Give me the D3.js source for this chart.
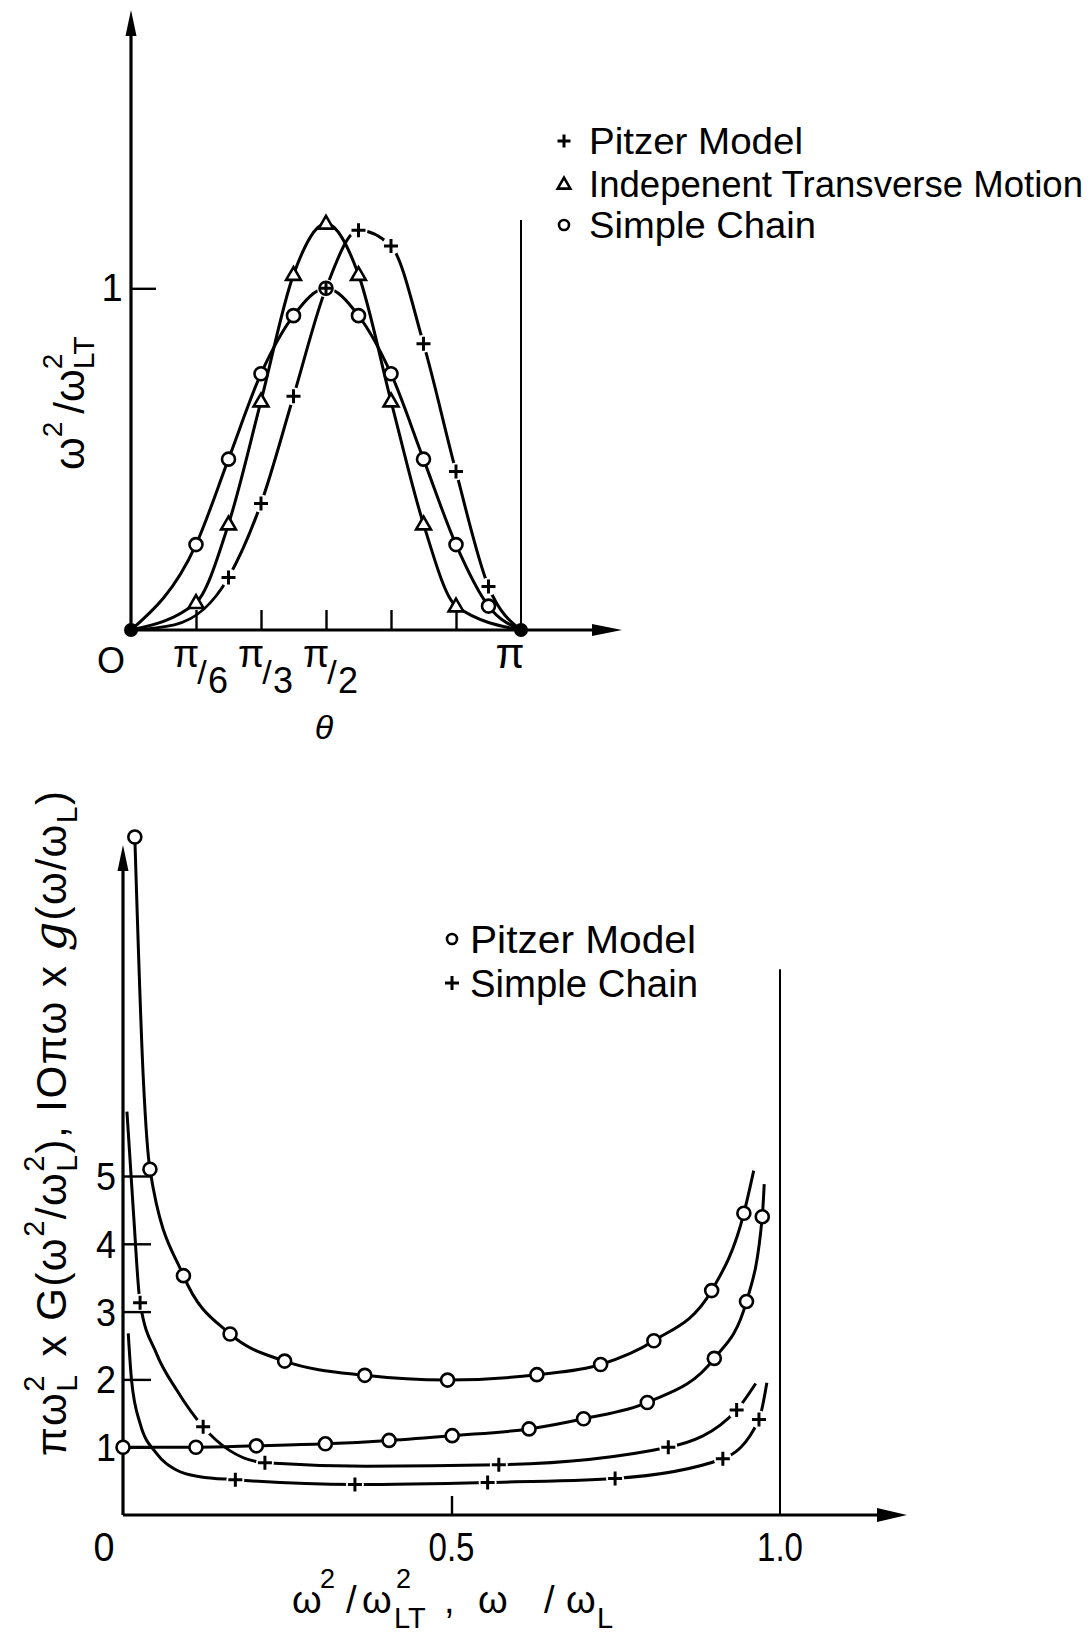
<!DOCTYPE html>
<html>
<head>
<meta charset="utf-8">
<script src="https://cdn.jsdelivr.net/npm/d3@7"></script>
<style>
  body { margin: 0; background: #fff; }
  svg text { font-family: "Liberation Sans", "DejaVu Sans", sans-serif; fill: #000; }
</style>
</head>
<body>
<svg id="fig" width="1090" height="1635"></svg>
<script>
// ---- upper panel: dispersion vs theta (degrees) ----
const chainTheta = [0, 30, 45, 60, 75, 90, 105, 120, 135, 150, 165, 180];
const chainVal   = [0, 0.25, 0.50, 0.75, 0.92, 1.00, 0.92, 0.75, 0.50, 0.25, 0.07, 0];
const chainMarks = [1, 2, 3, 4, 5, 6, 7, 8, 9, 10];

const indepTheta = [0, 30, 45, 60, 75, 90, 105, 120, 135, 150, 180];
const indepVal   = [0, 0.08, 0.31, 0.67, 1.04, 1.19, 1.04, 0.67, 0.31, 0.07, 0];
const indepMarks = [1, 2, 3, 4, 5, 6, 7, 8, 9];

const pitzerTheta = [0, 20, 45, 60, 75, 90, 105, 120, 135, 150, 165, 180];
const pitzerVal   = [0, 0.015, 0.154, 0.37, 0.684, 1.00, 1.17, 1.124, 0.838, 0.464, 0.127, 0];
const pitzerMarks = [2, 3, 4, 5, 6, 7, 8, 9, 10];

const thetaTicks = [30, 60, 90, 120, 150];
const thetaLabels = [[30, "6"], [60, "3"], [90, "2"]];
const topLegend = ["Pitzer Model", "Indepenent Transverse Motion", "Simple Chain"];

// ---- lower panel: distributions ----
const pitzGX = [0.018, 0.031, 0.041, 0.092, 0.163, 0.246, 0.368, 0.494, 0.630, 0.727, 0.808, 0.896, 0.945, 0.960];
const pitzGY = [10.0, 6.42, 5.10, 3.53, 2.67, 2.27, 2.06, 1.99, 2.07, 2.22, 2.57, 3.31, 4.45, 5.08];
const pitzGMarks = [0, 2, 3, 4, 5, 6, 7, 8, 9, 10, 11, 12];

const pitzgX = [0.0, 0.111, 0.203, 0.308, 0.405, 0.501, 0.618, 0.701, 0.798, 0.900, 0.949, 0.973, 0.976];
const pitzgY = [1.0, 1.0, 1.02, 1.05, 1.10, 1.17, 1.27, 1.42, 1.66, 2.31, 3.15, 4.40, 4.88];
const pitzgMarks = [0, 1, 2, 3, 4, 5, 6, 7, 8, 9, 10, 11];

const chainGX = [0.006, 0.016, 0.026, 0.051, 0.082, 0.122, 0.216, 0.37, 0.572, 0.830, 0.934, 0.963];
const chainGY = [5.95, 4.45, 3.13, 2.38, 1.84, 1.30, 0.77, 0.72, 0.74, 1.00, 1.55, 1.94];
const chainGMarks = [2, 5, 6, 8, 9, 10];

const chaingX = [0.008, 0.013, 0.026, 0.051, 0.082, 0.117, 0.171, 0.353, 0.555, 0.749, 0.913, 0.968, 0.980];
const chaingY = [2.68, 1.99, 1.35, 0.91, 0.66, 0.565, 0.52, 0.45, 0.48, 0.54, 0.83, 1.41, 1.95];
const chaingMarks = [6, 7, 8, 9, 10, 11];

const yTicksB = [1, 2, 3, 4, 5];
const xLabelsB = [[0, "0"], [0.5, "0.5"], [1, "1.0"]];
const bottomLegend = ["Pitzer Model", "Simple Chain"];

const svg = d3.select("#fig");

function plusPath(x, y, s) {
  return `M${x - s},${y}H${x + s}M${x},${y - s}V${y + s}`;
}

function arrowHead(g, x, y, dir, len, half) {
  let d;
  if (dir === "up") d = `M${x},${y}L${x - half},${y + len}L${x + half},${y + len}Z`;
  else d = `M${x},${y}L${x - len},${y - half}L${x - len},${y + half}Z`;
  g.append("path").attr("d", d).attr("fill", "#000");
}

function drawCurve(g, xs, ys, sx, sy) {
  g.append("path")
    .attr("d", d3.line().x((d, i) => sx(xs[i])).y((d, i) => sy(ys[i])).curve(d3.curveMonotoneX)(xs))
    .attr("fill", "none").attr("stroke", "#000").attr("stroke-width", 3);
}

function halos(g, xs, ys, marks, sx, sy, r) {
  g.selectAll(null).data(marks).join("circle")
    .attr("cx", i => sx(xs[i])).attr("cy", i => sy(ys[i])).attr("r", r).attr("fill", "#fff");
}

function circles(g, xs, ys, marks, sx, sy) {
  g.selectAll(null).data(marks).join("circle")
    .attr("cx", i => sx(xs[i])).attr("cy", i => sy(ys[i])).attr("r", 6.5)
    .attr("fill", "#fff").attr("stroke", "#000").attr("stroke-width", 2.6);
}

function pluses(g, xs, ys, marks, sx, sy, s) {
  g.selectAll(null).data(marks).join("path")
    .attr("d", i => plusPath(sx(xs[i]), sy(ys[i]), s))
    .attr("stroke", "#000").attr("stroke-width", 3).attr("fill", "none");
}

// builds rich text (sup/sub) inside a text element
function richText(t, segs, size) {
  let cur = 0, prev = null;
  segs.forEach(s => {
    const target = s.sup ? -s.lift : s.sub ? s.drop : 0;
    const ts = t.append("tspan").text(s.t)
      .attr("font-size", s.size || size)
      .attr("dy", target - cur);
    if (s.stack && prev) ts.attr("dx", -prev.node().getComputedTextLength());
    if (s.dx) ts.attr("dx", s.dx);
    if (s.italic) ts.style("font-family", "'DejaVu Serif', serif").style("font-style", "italic");
    cur = target;
    prev = ts;
  });
}

// ================= upper panel =================
const xT = d3.scaleLinear().domain([0, 180]).range([131, 521]);
const yT = d3.scaleLinear().domain([0, 1]).range([630, 288.3]);
const gT = svg.append("g");

drawCurve(gT, chainTheta, chainVal, xT, yT);
drawCurve(gT, indepTheta, indepVal, xT, yT);
drawCurve(gT, pitzerTheta, pitzerVal, xT, yT);
halos(gT, pitzerTheta, pitzerVal, pitzerMarks, xT, yT, 9);

// axes
gT.append("line").attr("x1", xT(0)).attr("y1", yT(0)).attr("x2", xT(0)).attr("y2", 22)
  .attr("stroke", "#000").attr("stroke-width", 3.2);
arrowHead(gT, xT(0), 10, "up", 26, 5.5);
gT.append("line").attr("x1", xT(0)).attr("y1", yT(0)).attr("x2", 600).attr("y2", yT(0))
  .attr("stroke", "#000").attr("stroke-width", 3.2);
arrowHead(gT, 622, yT(0), "right", 30, 6);
gT.append("line").attr("x1", xT(180)).attr("y1", yT(1.2)).attr("x2", xT(180)).attr("y2", yT(0))
  .attr("stroke", "#000").attr("stroke-width", 2);

const xAxT = gT.append("g").attr("transform", `translate(0,${yT(0)})`)
  .call(d3.axisBottom(xT).tickValues(thetaTicks).tickSize(-20).tickFormat(""));
const yAxT = gT.append("g").attr("transform", `translate(${xT(0)},0)`)
  .call(d3.axisRight(yT).tickValues([1]).tickSize(25).tickFormat(""));
[xAxT, yAxT].forEach(a => {
  a.select(".domain").remove();
  a.selectAll(".tick line").attr("stroke", "#000").attr("stroke-width", 2.4);
});

// markers
circles(gT, chainTheta, chainVal, chainMarks, xT, yT);
gT.selectAll(null).data(indepMarks).join("path")
  .attr("transform", i => `translate(${xT(indepTheta[i])},${yT(indepVal[i]) + 1})`)
  .attr("d", d3.symbol(d3.symbolTriangle).size(95))
  .attr("fill", "#fff").attr("stroke", "#000").attr("stroke-width", 2.6);
pluses(gT, pitzerTheta, pitzerVal, pitzerMarks, xT, yT, 7);
gT.selectAll(null).data([0, chainTheta.length - 1]).join("circle")
  .attr("cx", i => xT(chainTheta[i])).attr("cy", i => yT(chainVal[i])).attr("r", 7).attr("fill", "#000");

// tick labels
gT.append("text").attr("x", 111).attr("y", 673).attr("text-anchor", "middle")
  .attr("font-size", 36).text("O");
gT.append("text").attr("x", 112).attr("y", 301).attr("text-anchor", "middle")
  .attr("font-size", 38).text("1");
thetaLabels.forEach(([v, den]) => {
  const cx = xT(v);
  const t = gT.append("text").attr("text-anchor", "middle");
  t.append("tspan").attr("x", cx - 10).attr("y", 667).attr("font-size", 38).text("π");
  t.append("tspan").attr("x", cx + 6).attr("y", 684).attr("font-size", 34).text("/");
  t.append("tspan").attr("x", cx + 22).attr("y", 693).attr("font-size", 36).text(den);
});
gT.append("text").attr("x", xT(180) - 11).attr("y", 668).attr("text-anchor", "middle")
  .attr("font-size", 42).text("π");
gT.append("text").attr("x", 324).attr("y", 739).attr("text-anchor", "middle")
  .attr("font-size", 34).attr("font-style", "italic").text("θ");

// y label (rotated)
const ylT = gT.append("text").attr("transform", "translate(84,470) rotate(-90)").attr("font-size", 42);
richText(ylT, [
  { t: "ω" },
  { t: "2", sup: true, lift: 22, size: 28 },
  { t: "/ω", dx: 8 },
  { t: "2", sup: true, lift: 22, size: 28 },
  { t: "LT", sub: true, drop: 10, size: 30, stack: true }
], 42);

// legend
const legT = gT.append("g");
topLegend.forEach((name, k) => {
  const by = [154, 197, 238][k];
  legT.append("text").attr("x", 589).attr("y", by).attr("font-size", 37)
    .attr("textLength", [214, 494, 227][k]).attr("lengthAdjust", "spacingAndGlyphs").text(name);
  const cy = by - 13;
  if (k === 0) legT.append("path").attr("d", plusPath(564, cy, 6.5)).attr("stroke", "#000").attr("stroke-width", 3);
  if (k === 1) legT.append("path").attr("transform", `translate(564,${cy + 1})`)
    .attr("d", d3.symbol(d3.symbolTriangle).size(70)).attr("fill", "#fff").attr("stroke", "#000").attr("stroke-width", 2.6);
  if (k === 2) legT.append("circle").attr("cx", 564).attr("cy", cy).attr("r", 5)
    .attr("fill", "#fff").attr("stroke", "#000").attr("stroke-width", 2.6);
});

// ================= lower panel =================
const xB = d3.scaleLinear().domain([0, 1]).range([123, 780]);
const yB = d3.scaleLinear().domain([0, 5]).range([1515, 1176]);
const gB = svg.append("g");

drawCurve(gB, pitzGX, pitzGY, xB, yB);
drawCurve(gB, pitzgX, pitzgY, xB, yB);
drawCurve(gB, chainGX, chainGY, xB, yB);
drawCurve(gB, chaingX, chaingY, xB, yB);
halos(gB, chainGX, chainGY, chainGMarks, xB, yB, 9);
halos(gB, chaingX, chaingY, chaingMarks, xB, yB, 9);

gB.append("line").attr("x1", xB(0)).attr("y1", yB(0)).attr("x2", xB(0)).attr("y2", 858)
  .attr("stroke", "#000").attr("stroke-width", 3.2);
arrowHead(gB, xB(0), 845, "up", 26, 5.5);
gB.append("line").attr("x1", xB(0)).attr("y1", yB(0)).attr("x2", 885).attr("y2", yB(0))
  .attr("stroke", "#000").attr("stroke-width", 3.2);
arrowHead(gB, 907, yB(0), "right", 30, 7);
gB.append("line").attr("x1", xB(1)).attr("y1", yB(8.05)).attr("x2", xB(1)).attr("y2", yB(0))
  .attr("stroke", "#000").attr("stroke-width", 2);

const xAxB = gB.append("g").attr("transform", `translate(0,${yB(0)})`)
  .call(d3.axisBottom(xB).tickValues([0.5]).tickSize(-19).tickFormat(""));
const yAxB = gB.append("g").attr("transform", `translate(${xB(0)},0)`)
  .call(d3.axisRight(yB).tickValues(yTicksB).tickSize(28).tickFormat(""));
[xAxB, yAxB].forEach(a => {
  a.select(".domain").remove();
  a.selectAll(".tick line").attr("stroke", "#000").attr("stroke-width", 2.4);
});

circles(gB, pitzGX, pitzGY, pitzGMarks, xB, yB);
circles(gB, pitzgX, pitzgY, pitzgMarks, xB, yB);
pluses(gB, chainGX, chainGY, chainGMarks, xB, yB, 7);
pluses(gB, chaingX, chaingY, chaingMarks, xB, yB, 7);

yTicksB.forEach(v => {
  gB.append("text").attr("x", 106).attr("y", yB(v) + 14).attr("text-anchor", "middle")
    .attr("font-size", 39).attr("textLength", 20).attr("lengthAdjust", "spacingAndGlyphs").text(v);
});
xLabelsB.forEach(([v, s]) => {
  gB.append("text").attr("x", v === 0 ? 104 : xB(v)).attr("y", 1561).attr("text-anchor", "middle")
    .attr("font-size", 41).attr("textLength", v === 0 ? 21 : 46)
    .attr("lengthAdjust", "spacingAndGlyphs").text(s);
});

// x label
const xlB = gB.append("text");
[
  [292, 1613, 38, "ω"], [320, 1588, 27, "2"], [346, 1613, 38, "/"], [362, 1613, 38, "ω"],
  [396, 1588, 27, "2"], [394, 1628, 29, "LT"], [444, 1613, 38, ","], [478, 1613, 38, "ω"],
  [544, 1613, 38, "/"], [566, 1613, 38, "ω"], [597, 1628, 29, "L"]
].forEach(([x, y, fs, s]) => xlB.append("tspan").attr("x", x).attr("y", y).attr("font-size", fs).text(s));

// y label (rotated)
const ylB = gB.append("text").attr("transform", "translate(66,1456) rotate(-90)")
  .attr("font-size", 42).attr("letter-spacing", 1.5);
richText(ylB, [
  { t: "πω" },
  { t: "2", sup: true, lift: 22, size: 29 },
  { t: "L", sub: true, drop: 11, size: 30, stack: true },
  { t: " x  G(ω", dx: 4 },
  { t: "2", sup: true, lift: 22, size: 29 },
  { t: "/ω" },
  { t: "2", sup: true, lift: 22, size: 29 },
  { t: "L", sub: true, drop: 11, size: 30, stack: true },
  { t: "),  IOπω x " },
  { t: "g", size: 46, italic: true },
  { t: "(ω/ω" },
  { t: "L", sub: true, drop: 11, size: 30 },
  { t: ")" }
], 42);

// legend
const legB = gB.append("g");
bottomLegend.forEach((name, k) => {
  const by = [953, 997][k];
  legB.append("text").attr("x", 470).attr("y", by).attr("font-size", 38)
    .attr("textLength", [226, 228][k]).attr("lengthAdjust", "spacingAndGlyphs").text(name);
  const cy = by - 14;
  if (k === 0) legB.append("circle").attr("cx", 452).attr("cy", cy).attr("r", 5)
    .attr("fill", "#fff").attr("stroke", "#000").attr("stroke-width", 2.6);
  else legB.append("path").attr("d", plusPath(452, cy, 7)).attr("stroke", "#000").attr("stroke-width", 3);
});
</script>
</body>
</html>
